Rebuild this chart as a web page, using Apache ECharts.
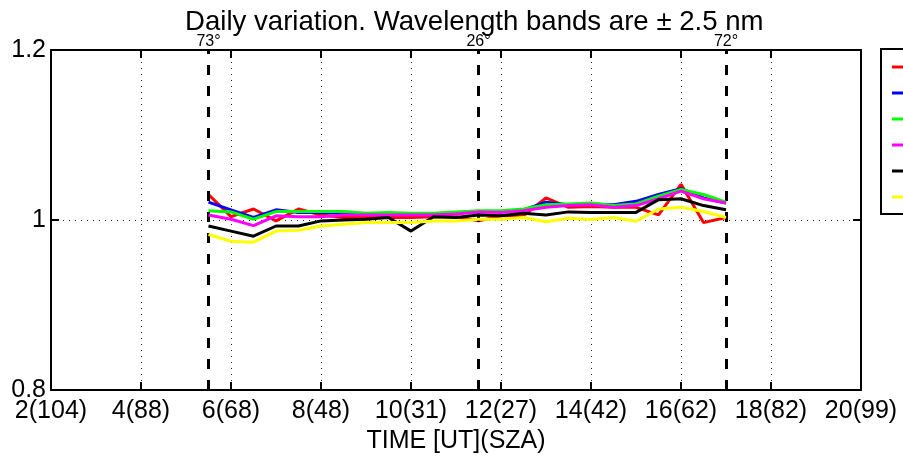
<!DOCTYPE html>
<html>
<head>
<meta charset="utf-8">
<script src="https://cdn.jsdelivr.net/npm/echarts@6/dist/echarts.min.js"></script>
<style>
html,body{margin:0;padding:0;background:#fff;}
#chart{width:903px;height:459px;}
</style>
</head>
<body>
<div id="chart"></div>
<script>
// ---- data ----
const time = [5.5,6,6.5,7,7.5,8,8.5,9,9.5,10,10.5,11,11.5,12,12.5,13,13.5,14,14.5,15,15.5,16,16.5,17];
const seriesNames = ['305 nm','310 nm','320 nm','340 nm','380 nm','500 nm'];
const red     = [1.030,1.004,1.013,0.999,1.013,1.006,1.003,1.003,1.003,1.003,1.004,1.004,0.999,1.005,1.005,1.026,1.015,1.016,1.015,1.015,1.006,1.042,0.997,1.003];
const blue    = [1.021,1.012,1.003,1.012,1.009,1.009,1.008,1.007,1.008,1.007,1.007,1.008,1.010,1.010,1.012,1.021,1.018,1.019,1.018,1.022,1.030,1.037,1.026,1.020];
const green   = [1.011,1.0096,1.001,1.010,1.010,1.010,1.010,1.008,1.009,1.008,1.008,1.0096,1.011,1.011,1.013,1.018,1.019,1.020,1.017,1.019,1.028,1.036,1.030,1.021];
const magenta = [1.006,1.001,0.9935,1.005,1.004,1.004,1.006,1.006,1.006,1.006,1.006,1.007,1.0096,1.009,1.011,1.015,1.017,1.018,1.015,1.017,1.025,1.034,1.025,1.020];
const black   = [0.993,0.987,0.981,0.993,0.993,0.999,1.000,1.001,1.003,0.987,1.004,1.003,1.006,1.005,1.008,1.006,1.0096,1.009,1.009,1.009,1.024,1.025,1.017,1.012];
const yellow  = [0.983,0.975,0.974,0.987,0.988,0.993,0.995,0.997,0.997,0.997,0.999,0.999,1.001,1.001,1.003,0.998,1.002,1.0006,1.003,0.9986,1.013,1.015,1.010,1.003];
const xTickValues = [2,4,6,8,10,12,14,16,18,20];
const xTickLabels = ['2(104)','4(88)','6(68)','8(48)','10(31)','12(27)','14(42)','16(62)','18(82)','20(99)'];
const yTickValues = [0.8,1,1.2];
const yTickLabels = ['0.8','1','1.2'];
const markTimes = [5.5,11.5,17.0];
const markLabels = ['73°','26°','72°'];
const titleText = 'Daily variation. Wavelength bands are ± 2.5 nm';
const xName = 'TIME [UT](SZA)';

// ---- chart ----
const FONT = "'Liberation Sans', Arial, Helvetica, sans-serif";
const colors = ['#ff0000','#0000ff','#00ff00','#ff00ff','#000000','#ffff00'];
const values = [red, blue, green, magenta, black, yellow];

function xLabel(v){
  const i = xTickValues.findIndex(t => Math.abs(t - v) < 1e-6);
  return i >= 0 ? xTickLabels[i] : '';
}
function yLabel(v){
  const i = yTickValues.findIndex(t => Math.abs(t - v) < 1e-6);
  return i >= 0 ? yTickLabels[i] : '';
}

const dotted = {color:'#222', width:1, type:[1,5]};

const series = values.map((arr, k) => ({
  name: seriesNames[k],
  type: 'line',
  xAxisIndex: 0, yAxisIndex: 0,
  data: time.map((t, i) => [t, arr[i]]),
  symbol: 'none',
  lineStyle: {color: colors[k], width: 3},
  itemStyle: {color: colors[k]},
  z: 3 + k,
  animation: false
}));

series.push({
  name: 'marks',
  type: 'line',
  xAxisIndex: 0, yAxisIndex: 0,
  data: [],
  animation: false,
  markLine: {
    silent: true,
    symbol: 'none',
    animation: false,
    lineStyle: {color:'#000', width:3, type:[10,11]},
    label: {show:true, position:'end', color:'#000', fontSize:16, fontFamily:FONT, distance:0},
    data: markTimes.map((t, i) => ({xAxis: t, label: {formatter: markLabels[i]}}))
  },
  z: 10
});

const chart = echarts.init(document.getElementById('chart'), null, {renderer:'canvas'});
chart.setOption({
  backgroundColor: '#fff',
  animation: false,
  title: {
    text: titleText,
    left: 180, top: 3,
    textStyle: {fontFamily: FONT, fontSize: 27.6, fontWeight: 'normal', color: '#000'}
  },
  legend: {
    orient: 'vertical',
    left: 881, top: 49,
    data: seriesNames,
    icon: 'rect',
    padding: [11, 60, 10, 11],
    itemWidth: 12, itemHeight: 3, itemGap: 12,
    borderColor: '#000', borderWidth: 2,
    backgroundColor: '#fff',
    textStyle: {fontFamily: FONT, fontSize: 13, lineHeight: 14, color: '#000'},
    selectedMode: false
  },
  grid: {left: 51, right: 42, top: 50, bottom: 68, containLabel: false},
  xAxis: [{
    type: 'value', min: 2, max: 20, interval: 2, position: 'bottom',
    name: xName, nameLocation: 'middle', nameGap: 31,
    nameTextStyle: {fontFamily: FONT, fontSize: 25, color: '#000'},
    axisLine: {show: true, lineStyle: {color: '#000', width: 2}},
    axisTick: {show: true, inside: true, length: 8, lineStyle: {color: '#000', width: 2}},
    axisLabel: {show: true, formatter: xLabel, fontFamily: FONT, fontSize: 25, color: '#000', margin: 9, showMinLabel: true, showMaxLabel: true},
    splitLine: {show: true, lineStyle: dotted}
  },{
    type: 'value', min: 2, max: 20, interval: 2, position: 'top',
    axisLine: {show: true, lineStyle: {color: '#000', width: 2}},
    axisTick: {show: true, inside: true, length: 8, lineStyle: {color: '#000', width: 2}},
    axisLabel: {show: false},
    splitLine: {show: false}
  }],
  yAxis: [{
    type: 'value', min: 0.8, max: 1.2, interval: 0.2, position: 'left',
    axisLine: {show: true, lineStyle: {color: '#000', width: 2}},
    axisTick: {show: true, inside: true, length: 8, lineStyle: {color: '#000', width: 2}},
    axisLabel: {show: true, formatter: yLabel, fontFamily: FONT, fontSize: 25, color: '#000', margin: 5},
    splitLine: {show: true, lineStyle: dotted}
  },{
    type: 'value', min: 0.8, max: 1.2, interval: 0.2, position: 'right',
    axisLine: {show: true, lineStyle: {color: '#000', width: 2}},
    axisTick: {show: true, inside: true, length: 8, lineStyle: {color: '#000', width: 2}},
    axisLabel: {show: false},
    splitLine: {show: false}
  }],
  series: series
});
</script>
</body>
</html>
